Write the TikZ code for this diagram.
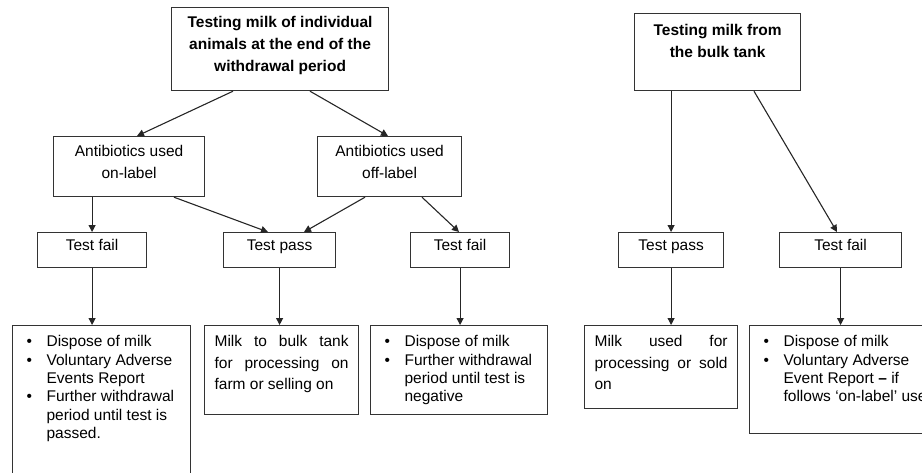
\documentclass[tikz,border=0pt]{standalone}
\usepackage{fontspec}
\setmainfont{Liberation Sans}
\usetikzlibrary{arrows.meta,positioning}

% fixed-size text area, contents from the top
\newcommand{\cellbox}[3]{\parbox[c][#1][t]{#2}{#3}}
% bullet item with hanging indent
\newcommand{\bulitem}[1]{\par\hangindent=24pt\noindent\hbox to 24pt{\hspace{4pt}\textbullet\hfil}#1}
% stretched (justified) line
\newcommand{\jline}[1]{\makebox[\linewidth][s]{#1}}

\begin{document}
\begin{tikzpicture}[x=1pt, y=-1pt,
  box/.style={draw=black!80, line width=1.2pt, anchor=north west, inner xsep=10pt,
              inner ysep=10pt, font=\fontsize{15.5}{18.3}\selectfont},
  head/.style={box, font=\bfseries\fontsize{15.5}{22}\selectfont},
  mid/.style={box, inner ysep=9pt, font=\fontsize{15.5}{22}\selectfont},
  test/.style={box, inner ysep=7pt},
  arr/.style={-{Triangle[length=7pt,width=7pt]}, line width=1.1pt, draw=black!85}
]
\useasboundingbox (0,0) rectangle (922,472);

% Top row
\node[head, inner ysep=9pt]  (indiv) at (171,7)  {\cellbox{65pt}{197pt}{\centering Testing milk of individual\\animals at the end of the\\withdrawal period}};
\node[head, inner ysep=11pt] (bulk)  at (634,13) {\cellbox{55pt}{146pt}{\centering Testing milk from\\the bulk tank}};

% Antibiotics
\node[mid] (onlab)  at (53,136)  {\cellbox{42pt}{131pt}{\centering Antibiotics used\\on-label}};
\node[mid] (offlab) at (317,136) {\cellbox{42pt}{124pt}{\centering Antibiotics used\\off-label}};

% Tests
\node[test] (failA) at (37,232)  {\cellbox{21pt}{89pt}{\centering Test fail}};
\node[test] (passA) at (223,232) {\cellbox{21pt}{92pt}{\centering Test pass}};
\node[test] (failB) at (410,232) {\cellbox{21pt}{79pt}{\centering Test fail}};
\node[test] (passC) at (618,232) {\cellbox{21pt}{85pt}{\centering Test pass}};
\node[test] (failC) at (779,232) {\cellbox{21pt}{102pt}{\centering Test fail}};

% Outcomes
\node[box] (dispA) at (12,325) {\cellbox{140pt}{158pt}{\raggedright
  \bulitem{Dispose of milk}
  \bulitem{Voluntary Adverse\newline Events Report}
  \bulitem{Further withdrawal\newline period until test is\newline passed.}}};
\node[box] (tankA) at (204,325) {\cellbox{69pt}{134pt}{\fontsize{15.5}{21.5}\selectfont
  \jline{Milk to bulk tank}\\\jline{for processing on}\\farm or selling on}};
\node[box] (dispB) at (370,325) {\cellbox{69pt}{157pt}{\raggedright
  \bulitem{Dispose of milk}
  \bulitem{Further withdrawal\newline period until test is\newline negative}}};
\node[box] (tankC) at (584,325) {\cellbox{63pt}{133pt}{\fontsize{15.5}{21.5}\selectfont
  \jline{Milk used for}\\\jline{processing or sold}\\on}};
\node[box] (dispC) at (749,325) {\cellbox{88pt}{185pt}{\raggedright
  \bulitem{Dispose of milk}
  \bulitem{Voluntary Adverse\newline Event Report \textbf{–} if\newline follows ‘on-label’ use}}};

% Arrows
\draw[arr] ([xshift=62pt]indiv.south west) -- ([xshift=84pt]onlab.north west);
\draw[arr] ([xshift=139pt]indiv.south west) -- ([xshift=71pt]offlab.north west);
\draw[arr] (failA.north |- onlab.south) -- (failA.north);
\draw[arr] ([xshift=121pt]onlab.south west) -- ([xshift=45pt]passA.north west);
\draw[arr] ([xshift=48pt]offlab.south west) -- ([xshift=81pt]passA.north west);
\draw[arr] ([xshift=105pt]offlab.south west) -- ([xshift=49pt]failB.north west);
\draw[arr] (failA.south) -- (failA.south |- dispA.north);
\draw[arr] (passA.south) -- (passA.south |- tankA.north);
\draw[arr] (failB.south) -- (failB.south |- dispB.north);
\draw[arr] (passC.north |- bulk.south) -- (passC.north);
\draw[arr] ([xshift=120pt]bulk.south west) -- ([xshift=58pt]failC.north west);
\draw[arr] (passC.south) -- (passC.south |- tankC.north);
\draw[arr] (failC.south) -- (failC.south |- dispC.north);
\end{tikzpicture}
\end{document}
